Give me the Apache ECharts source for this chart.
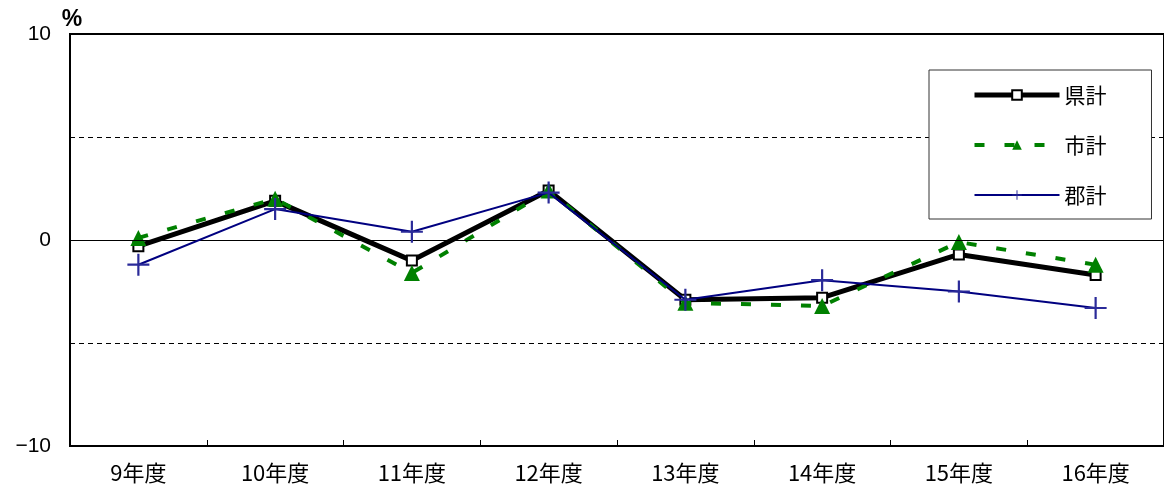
<!DOCTYPE html>
<html>
<head>
<meta charset="utf-8">
<script src="https://cdn.jsdelivr.net/npm/echarts@6/dist/echarts.min.js"></script>
<style>
  html, body { margin: 0; padding: 0; background: #fff; }
  #chart { width: 1164px; height: 488px; }
</style>
</head>
<body>
<div id="chart"></div>
<script>
// 年度
var years = ["9年度", "10年度", "11年度", "12年度", "13年度", "14年度", "15年度", "16年度"];
// 伸び率 (%)
var kenKei = [-0.3, 1.9, -1.0, 2.4, -2.9, -2.8, -0.7, -1.7];
var shiKei = [0.1, 2.0, -1.6, 2.4, -3.05, -3.2, -0.1, -1.2];
var gunKei = [-1.2, 1.5, 0.4, 2.3, -2.9, -1.95, -2.5, -3.3];
var seriesNames = ["県計", "市計", "郡計"];
var yMin = -10, yMax = 10, yStep = 5;

var font = "'Noto Sans CJK JP', 'Liberation Sans', sans-serif";
var plus = "path://M9,0h2v9h9v2h-9v9h-2v-9h-9v-2h9z";

var chart = echarts.init(document.getElementById("chart"));
chart.setOption({
  animation: false,
  backgroundColor: "#fff",
  textStyle: { fontFamily: font },
  grid: {
    left: 70,
    top: 34,
    bottom: 42,
    width: 1097,
    show: true,
    borderColor: "#000",
    borderWidth: 2
  },
  legend: {
    orient: "vertical",
    left: 929,
    top: 70,
    data: [
      { name: seriesNames[0], lineStyle: { width: 5 } },
      { name: seriesNames[1], lineStyle: { width: 4 } },
      { name: seriesNames[2], lineStyle: { width: 2 } }
    ],
    itemWidth: 85,
    itemHeight: 12,
    itemGap: 28,
    padding: [14, 45, 13, 43],
    backgroundColor: "#fff",
    borderColor: "#333",
    borderWidth: 1,
    borderRadius: 0,
    textStyle: { fontSize: 21, lineHeight: 22, color: "#000", fontFamily: font }
  },
  xAxis: {
    type: "category",
    data: years,
    axisLine: { onZero: false, lineStyle: { color: "#000", width: 2 } },
    axisTick: { show: true, inside: true, length: 6, lineStyle: { color: "#000" } },
    axisLabel: { color: "#000", fontSize: 22, margin: 16, fontFamily: font },
    splitLine: { show: false }
  },
  yAxis: {
    type: "value",
    min: yMin,
    max: yMax,
    interval: yStep,
    name: "%",
    nameGap: 3,
    nameTextStyle: { color: "#000", fontSize: 23, fontWeight: "bold", fontFamily: "'Liberation Sans', sans-serif", padding: [0, 0, 0, 4] },
    axisLine: { show: true, lineStyle: { color: "#000", width: 2 } },
    axisTick: { show: false },
    axisLabel: {
      color: "#000",
      fontSize: 21,
      margin: 19,
      fontFamily: "'Liberation Sans', sans-serif",
      formatter: function (v) {
        if (v % 10 !== 0) return "";
        return String(v).replace("-", "\u2212");
      }
    },
    splitLine: { show: true, lineStyle: { color: "#000", width: 1, type: [5, 4] } }
  },
  series: [
    {
      name: seriesNames[0],
      type: "line",
      data: kenKei,
      symbol: "rect",
      symbolSize: 10,
      lineStyle: { color: "#000", width: 5 },
      itemStyle: { color: "#fff", borderColor: "#000", borderWidth: 2 },
      markLine: {
        silent: true,
        symbol: "none",
        label: { show: false },
        lineStyle: { color: "#000", width: 1, type: "solid" },
        data: [{ yAxis: 0 }]
      },
      z: 3
    },
    {
      name: seriesNames[1],
      type: "line",
      data: shiKei,
      symbol: "triangle",
      symbolSize: 16,
      lineStyle: { color: "#008000", width: 4, type: [10, 20] },
      itemStyle: { color: "#008000" },
      z: 4
    },
    {
      name: seriesNames[2],
      type: "line",
      data: gunKei,
      symbol: plus,
      symbolSize: 22,
      lineStyle: { color: "#000080", width: 2 },
      itemStyle: { color: "#2a2a99" },
      z: 5
    }
  ]
});
</script>
</body>
</html>
